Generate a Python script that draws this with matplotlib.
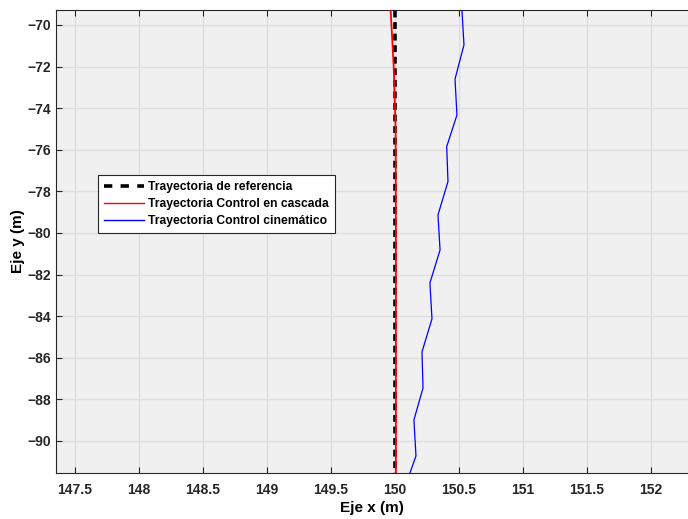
import matplotlib.pyplot as plt
from matplotlib.lines import Line2D

plt.rcParams['font.family'] = ['Liberation Sans', 'DejaVu Sans']
plt.rcParams['font.weight'] = 'bold'

# trayectoria de referencia
ref_x = [150.0, 150.0]
ref_y = [-60.0, -95.0]

# control en cascada
casc_x = [149.955, 149.966, 149.99, 150.005, 150.007, 150.007]
casc_y = [-69.0, -69.28, -72.0, -75.0, -80.0, -91.6]

# control cinematico
cin_x = [150.52, 150.523, 150.539, 150.469, 150.484, 150.404, 150.414, 150.336, 150.352,
         150.273, 150.289, 150.211, 150.219, 150.148, 150.164, 150.117]
cin_y = [-69.0, -69.28, -70.96, -72.60, -74.33, -75.85, -77.53, -79.13, -80.82,
         -82.40, -84.13, -85.72, -87.45, -88.99, -90.72, -91.54]

nombres = ['Trayectoria de referencia', 'Trayectoria Control en cascada',
           'Trayectoria Control cinemático']

fig = plt.figure(figsize=(6.88, 5.19), dpi=100)
ax = fig.add_axes([56/688, 46/519, (688-56)/688, (473-10)/519])
ax.set_facecolor('#f0f0f0')

ax.plot(ref_x, ref_y, color='black', linestyle=(0, (1.9, 1.3)), linewidth=2.6, zorder=3)
ax.plot(casc_x, casc_y, color='red', linewidth=1.3, zorder=4)
ax.plot(cin_x, cin_y, color='blue', linewidth=0.9, zorder=4)

ax.set_xlim(147.352, 152.289)
ax.set_ylim(-91.54, -69.28)
ax.set_xticks([147.5, 148, 148.5, 149, 149.5, 150, 150.5, 151, 151.5, 152])
ax.set_xticklabels(['147.5', '148', '148.5', '149', '149.5', '150', '150.5', '151', '151.5', '152'])
ax.set_yticks(range(-90, -69, 2))

ax.grid(True, color='#dcdcdc', linewidth=0.9)
ax.set_axisbelow(True)
ax.tick_params(direction='in', length=4, width=0.8, labelsize=10, color='#262626',
               top=True, right=False)
ax.tick_params(axis='x', pad=7)
for lbl in ax.get_xticklabels() + ax.get_yticklabels():
    lbl.set_fontweight('bold')
    lbl.set_color('#262626')

for s in ['left', 'bottom', 'top']:
    ax.spines[s].set_color('#262626')
    ax.spines[s].set_linewidth(0.8)
ax.spines['right'].set_visible(False)

ax.set_xlabel('Eje x (m)', fontsize=11, fontweight='bold', labelpad=3)
ax.set_ylabel('Eje y (m)', fontsize=11, fontweight='bold', labelpad=2)

# manejadores de la leyenda
handles = [
    Line2D([], [], color='black', linestyle=(0, (2.3, 2.3)), linewidth=2.6),
    Line2D([], [], color='red', linewidth=1.0),
    Line2D([], [], color='blue', linewidth=1.0),
]
leg = ax.legend(handles, nombres, loc='upper left',
                bbox_to_anchor=((98-56)/632, 1 - (175-10)/463),
                prop={'weight': 'bold', 'size': 8.7}, frameon=True, fancybox=False,
                handlelength=3.3, handletextpad=0.35, borderpad=0.5, labelspacing=0.42,
                borderaxespad=0)
leg.get_frame().set_edgecolor('#262626')
leg.get_frame().set_linewidth(0.8)
leg.get_frame().set_facecolor('white')
leg.get_frame().set_alpha(1)

plt.savefig('out.png', dpi=100)
